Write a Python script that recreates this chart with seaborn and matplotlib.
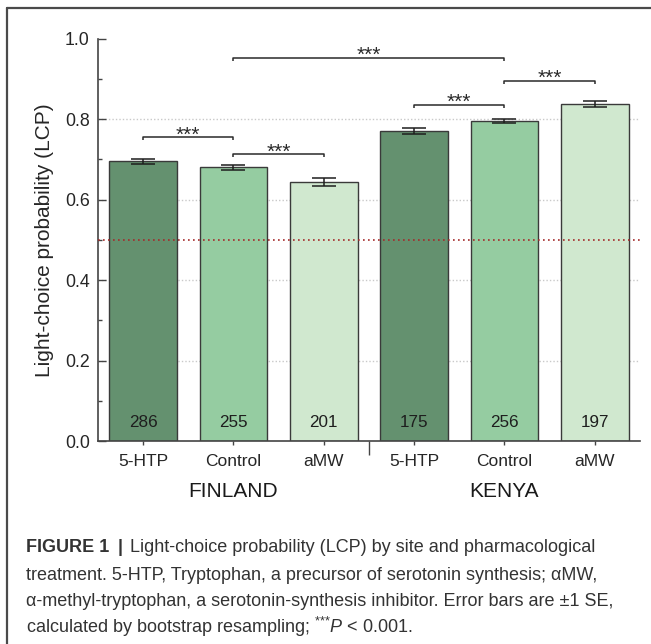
import matplotlib
matplotlib.use("Agg")
import matplotlib.pyplot as plt
from matplotlib.lines import Line2D
from matplotlib.ticker import MultipleLocator, FixedLocator
import seaborn as sns
import pandas as pd

# ---- data -------------------------------------------------------------
sites = ["FINLAND", "KENYA"]
treatments = ["5-HTP", "Control", "aMW"]
lcp = [0.695, 0.680, 0.645, 0.770, 0.796, 0.838]
se = [0.006, 0.007, 0.010, 0.007, 0.005, 0.008]
n_flies = [286, 255, 201, 175, 256, 197]
bar_colors = ["#64916f", "#95cca1", "#d0e8cf"]
# significance brackets: (left bar, right bar, bracket height)
brackets = [(0, 1, 0.756), (1, 2, 0.714), (1, 4, 0.953), (3, 4, 0.836), (4, 5, 0.896)]
sig_label = "***"
chance_level = 0.5

caption_lines = [
    "Light-choice probability (LCP) by site and pharmacological",
    "treatment. 5-HTP, Tryptophan, a precursor of serotonin synthesis; \u03b1MW,",
    "\u03b1-methyl-tryptophan, a serotonin-synthesis inhibitor. Error bars are \u00b11 SE,",
    r"calculated by bootstrap resampling; $^{{*}{*}{*}}\mathit{P}$ < 0.001.",
]

# ---- style ------------------------------------------------------------
sns.set_style("white")
plt.rcParams["font.family"] = ["Liberation Sans", "DejaVu Sans"]
plt.rcParams["mathtext.fontset"] = "custom"
plt.rcParams["mathtext.rm"] = "Liberation Sans"
plt.rcParams["mathtext.it"] = "Liberation Sans:italic"

df = pd.DataFrame({
    "site": [s for s in sites for _ in treatments],
    "treatment": treatments * len(sites),
    "lcp": lcp,
})
df["bar"] = [f"{s}-{t}" for s, t in zip(df["site"], df["treatment"])]
palette = {b: bar_colors[i % 3] for i, b in enumerate(df["bar"])}

fig = plt.figure(figsize=(6.51, 6.44), dpi=100)
ax = fig.add_axes([0.1505, 0.315, 0.8325, 0.625])

sns.barplot(data=df, x="bar", y="lcp", hue="bar", palette=palette, legend=False,
            errorbar=None, width=0.75, edgecolor="#3a3a3a", linewidth=1.0,
            saturation=1, ax=ax, zorder=2)

xpos = list(range(len(lcp)))
ax.errorbar(xpos, lcp, yerr=se, fmt="none", ecolor="#1e1e1e",
            elinewidth=1.1, capsize=8.5, capthick=1.1, zorder=3)

# sample sizes inside the bars
for x, n in zip(xpos, n_flies):
    ax.text(x, 0.047, str(n), ha="center", va="center", fontsize=12.3,
            color="#1e1e1e", zorder=4)

# chance level
ax.axhline(chance_level, color="#a42a2a", lw=1.2, ls=(0, (1, 2)), zorder=3)

# significance brackets
tick_h = 0.009
for i, j, y in brackets:
    ax.plot([i, i, j, j], [y - tick_h, y, y, y - tick_h], color="#2a2a2a",
            lw=1.1, zorder=4, solid_capstyle="butt")
    ax.text((i + j) / 2, y - 0.009, sig_label, ha="center", va="baseline",
            fontsize=15, color="#2a2a2a")

# axes
ax.set_xlim(-0.5, 5.5)
ax.set_ylim(0, 1.0)
ax.yaxis.set_major_locator(MultipleLocator(0.2))
ax.yaxis.set_minor_locator(MultipleLocator(0.1))
ax.set_yticks([0.0, 0.2, 0.4, 0.6, 0.8, 1.0])
ax.set_yticklabels(["0.0", "0.2", "0.4", "0.6", "0.8", "1.0"])
ax.set_xticks(xpos)
ax.set_xticklabels(df["treatment"])
ax.xaxis.set_minor_locator(FixedLocator([2.5]))
ax.tick_params(axis="y", which="major", direction="in", length=5.5, width=1,
               color="#444444", labelsize=12.8, pad=6, left=True)
ax.tick_params(axis="y", which="minor", direction="in", length=3, width=1,
               color="#444444", left=True)
ax.tick_params(axis="x", which="major", direction="out", length=3, width=1,
               color="#444444", labelsize=12.5, pad=6, bottom=True)
ax.tick_params(axis="x", which="minor", direction="out", length=10, width=1,
               color="#444444", bottom=True)
ax.set_xlabel("")
ax.set_ylabel("Light-choice probability (LCP)", fontsize=15, labelpad=8)

ax.grid(axis="y", which="major", color="#c9c9c9", ls=(0, (1, 1.5)), lw=1)
for gl, t in zip(ax.get_ygridlines(), ax.get_yticks()):
    if t <= 0 or t >= 1:
        gl.set_visible(False)
ax.set_axisbelow(True)

sns.despine(ax=ax)
for side in ("left", "bottom"):
    ax.spines[side].set_color("#444444")
    ax.spines[side].set_linewidth(1.2)

# site labels under each group
trans = ax.get_xaxis_transform()
for k, site in enumerate(sites):
    ax.text(k * 3 + 1, -0.124, site, transform=trans, ha="center", va="center",
            fontsize=15, color="#1a1a1a")

# frame around the figure panel (top and left edges)
fig.add_artist(Line2D([7 / 651, 1], [1 - 8 / 644, 1 - 8 / 644],
                      transform=fig.transFigure, color="#4a4a4a", lw=1.6))
fig.add_artist(Line2D([7 / 651, 7 / 651], [0, 1 - 8 / 644],
                      transform=fig.transFigure, color="#4a4a4a", lw=1.6))

# caption
cap_color = "#333333"
cap_size = 13
cap_x = 26 / 651
cap_y = [548, 575, 601, 627]
head = fig.text(cap_x, 1 - cap_y[0] / 644, "FIGURE 1", fontsize=cap_size,
                fontweight="bold", color=cap_color, va="center", ha="left")
fig.canvas.draw()
r = fig.canvas.get_renderer()
bb = head.get_window_extent(r)
bar_txt = fig.text((bb.x1 + 8) / 651, 1 - cap_y[0] / 644, "|", fontsize=cap_size,
                   fontweight="bold", color=cap_color, va="center", ha="left")
bb2 = bar_txt.get_window_extent(r)
fig.text((bb2.x1 + 8) / 651, 1 - cap_y[0] / 644, caption_lines[0], fontsize=cap_size,
         color=cap_color, va="center", ha="left")
for line, y in zip(caption_lines[1:], cap_y[1:]):
    fig.text(cap_x, 1 - y / 644, line, fontsize=cap_size, color=cap_color,
             va="center", ha="left")

fig.savefig("out.png", dpi=100, facecolor="white")
